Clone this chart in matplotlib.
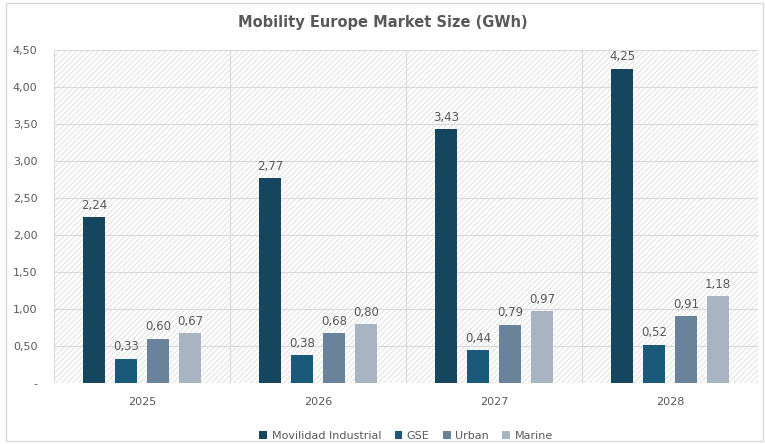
import numpy as np
import matplotlib.pyplot as plt
from matplotlib.patches import Rectangle

years = ["2025", "2026", "2027", "2028"]
series = ["Movilidad Industrial", "GSE", "Urban", "Marine"]
movilidad = [2.24, 2.77, 3.43, 4.25]
gse = [0.33, 0.38, 0.44, 0.52]
urban = [0.60, 0.68, 0.79, 0.91]
marine = [0.67, 0.80, 0.97, 1.18]
colors = ["#15455f", "#195a7b", "#69839a", "#a8b4c1"]

plt.rcParams["hatch.linewidth"] = 0.5
plt.rcParams["font.family"] = ["DejaVu Sans"]

fig = plt.figure(figsize=(7.65, 4.44), dpi=100)
ax = fig.add_axes([0.0706, 0.1374, 0.9204, 0.7496])

# outer chart border
fig.patches.append(Rectangle((0.008, 0.007), 0.99, 0.986, transform=fig.transFigure,
                             fill=False, edgecolor="#d9d9d9", linewidth=1))

ax.patch.set_facecolor("white")
ax.patch.set_hatch("//////")
ax.patch.set_edgecolor("#d4d4d4")

x = np.arange(len(years))
w = 0.125
step = 0.182
for i, (name, vals) in enumerate(zip(series, [movilidad, gse, urban, marine])):
    pos = x + (i - 1.5) * step
    bars = ax.bar(pos, vals, w, color=colors[i], label=name, zorder=3)
    for b, v in zip(bars, vals):
        ax.text(b.get_x() + b.get_width() / 2, v + 0.07, f"{v:.2f}".replace(".", ","),
                ha="center", va="bottom", fontsize=8.5, color="#595959", zorder=4)

ax.set_xlim(-0.5, 3.5)
ax.set_ylim(0, 4.5)
yt = np.arange(0, 4.51, 0.5)
ax.set_yticks(yt)
ax.set_yticklabels(["-"] + [f"{t:.2f}".replace(".", ",") for t in yt[1:]])
ax.set_xticks(x)
ax.set_xticklabels(years)
ax.tick_params(axis="both", length=0, labelsize=8, colors="#595959")
ax.tick_params(axis="x", pad=10)
ax.tick_params(axis="y", pad=12)

for t in yt:
    ax.axhline(t, color="#d9d9d9", linewidth=0.8, zorder=1)
for xv in [-0.5, 0.5, 1.5, 2.5, 3.5]:
    ax.axvline(xv, color="#d9d9d9", linewidth=0.8, zorder=1)
for s in ax.spines.values():
    s.set_visible(False)

fig.text(0.5, 0.95, "Mobility Europe Market Size (GWh)", ha="center", va="center",
         fontsize=10.5, fontweight="bold", color="#595959")

ax.legend(loc="center", bbox_to_anchor=(0.5, -0.16), ncol=4, frameon=False,
          fontsize=8, labelcolor="#595959", handlelength=0.7, handleheight=0.7,
          handletextpad=0.4, columnspacing=1.2)

fig.savefig("out.png", dpi=100)
